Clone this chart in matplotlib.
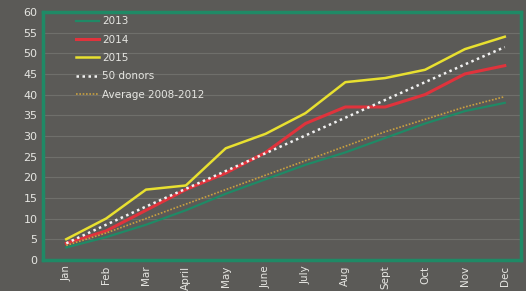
import matplotlib
matplotlib.use("Agg")
import matplotlib.pyplot as plt

months = ["Jan", "Feb", "Mar", "April", "May", "June", "July", "Aug", "Sept", "Oct", "Nov", "Dec"]
s2013 = [3, 5.5, 8.5, 12, 16, 19.5, 23, 26, 29.5, 33, 36, 38]
s2014 = [4, 7, 12, 17, 21, 26, 33, 37, 37, 40, 45, 47]
s2015 = [5, 10, 17, 18, 27, 30.5, 35.5, 43, 44, 46, 51, 54]
donors50 = [4, 8.5, 12.9, 17.2, 21.5, 25.8, 30.1, 34.4, 38.7, 43, 47.3, 51.5]
avg0812 = [3.5, 6.5, 10, 13.5, 17, 20.5, 24, 27.5, 31, 34, 37, 39.5]
yticks = list(range(0, 61, 5))

BG = "#5b5a57"
TXT = "#e6e6e2"

fig = plt.figure(figsize=(5.26, 2.91), dpi=100, facecolor=BG)
ax = fig.add_axes([0.082, 0.107, 0.908, 0.852], facecolor=BG)

x = range(len(months))
ax.plot(x, s2013, color="#1f8a66", lw=1.6, label="2013")
ax.plot(x, s2014, color="#e0333c", lw=2.2, label="2014")
ax.plot(x, s2015, color="#e8e030", lw=1.8, label="2015")
ax.plot(x, donors50, color="#f2f2f2", lw=1.8, ls=(0, (1, 1.4)), label="50 donors")
ax.plot(x, avg0812, color="#c8a040", lw=1.2, ls=(0, (1, 1)), label="Average 2008-2012")

ax.set_xlim(-0.58, 11.4)
ax.set_ylim(0, 60)
ax.set_xticks(list(x))
ax.set_xticklabels(months, rotation=90, color=TXT, fontsize=7.5)
ax.set_yticks(yticks)
ax.set_yticklabels([str(v) for v in yticks], color=TXT, fontsize=8)
ax.tick_params(length=0, pad=4)
ax.grid(axis="y", color="#6f6f6b", lw=0.8)
ax.set_axisbelow(True)
for sp in ax.spines.values():
    sp.set_color("#1f8a66")
    sp.set_linewidth(2.5)

leg = ax.legend(loc="upper left", bbox_to_anchor=(0.05, 1.02), frameon=False,
                fontsize=7.5, handlelength=2.2, labelspacing=0.8, handletextpad=0.3)
for t in leg.get_texts():
    t.set_color(TXT)

fig.savefig("out.png", dpi=100, facecolor=BG)
